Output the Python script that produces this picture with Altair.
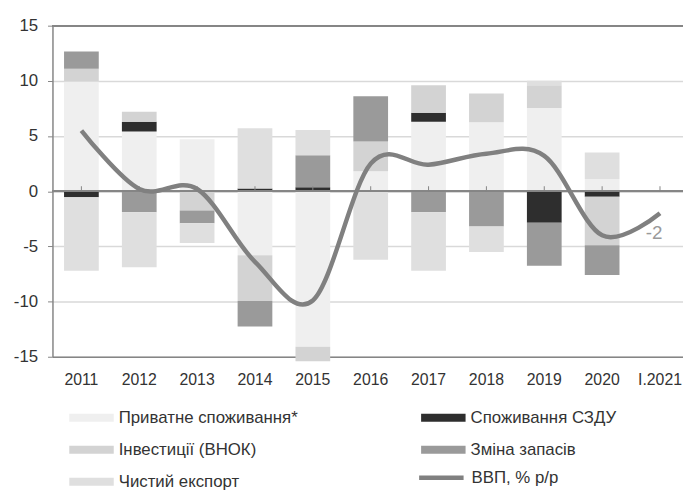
import altair as alt
import pandas as pd

years = ["2011", "2012", "2013", "2014", "2015", "2016", "2017", "2018", "2019", "2020", "I.2021"]
series = ["Приватне споживання*", "Споживання СЗДУ", "Інвестиції (ВНОК)", "Зміна запасів", "Чистий експорт"]
gdp_name = "ВВП, % р/р"

private = [9.95, 5.4, 4.7, -5.8, -14.1, 1.8, 6.3, 6.25, 7.55, 1.1]
gov = [-0.55, 0.9, 0.0, 0.25, 0.35, 0.0, 0.8, 0.0, -2.85, -0.5]
invest = [1.15, 0.9, -1.75, -4.15, -1.3, 2.7, 2.5, 2.6, 2.05, -4.4]
stocks = [1.55, -1.9, -1.15, -2.3, 2.9, 4.1, -1.9, -3.2, -3.9, -2.7]
netexp = [-6.65, -5.0, -1.8, 5.45, 2.3, -6.2, -5.3, -2.3, 0.4, 2.4]
gdp = [5.5, 0.2, 0.2, -6.4, -9.9, 2.5, 2.4, 3.4, 3.2, -4.0, -2.0]

colors = ["#efefef", "#2e2e2e", "#d3d3d3", "#9a9a9a", "#dfdfdf"]
line_color = "#808080"

# legend lays entries out column by column: order them so rows read as in the reference
legend_order = [0, 2, 4, 1, 3]
legend_domain = [series[i] for i in legend_order]
legend_range = [colors[i] for i in legend_order]

rows = []
for k, vals in enumerate([private, gov, invest, stocks, netexp]):
    for i, v in enumerate(vals):
        rows.append({"year": years[i], "series": series[k], "value": v, "ord": k})
bars_df = pd.DataFrame(rows)
line_df = pd.DataFrame({"year": years, "gdp": gdp, "name": gdp_name})

FONT = "Liberation Sans"
AX = "#858585"
TXT = "#333333"

xscale = alt.Scale(domain=years, range=[0, 644], paddingInner=0.4, paddingOuter=0.2)
yscale = alt.Scale(domain=[-15, 15], nice=False)

rect_path = "M-2,-0.36H2V0.36H-2Z"

bar_legend = alt.Legend(
    orient="none", legendX=28, legendY=385, columns=2, title=None,
    symbolType=rect_path, symbolSize=506, symbolStrokeWidth=0, symbolOpacity=1,
    labelFont=FONT, labelFontSize=17, labelColor=TXT, labelOffset=16,
    columnPadding=124, rowPadding=12.5, padding=0, labelLimit=300,
)
line_legend = alt.Legend(
    orient="none", legendX=380, legendY=444, title=None,
    symbolType="M-2,0H2", symbolSize=506, symbolStrokeWidth=4.5, symbolOpacity=1,
    labelFont=FONT, labelFontSize=17, labelColor=TXT, labelOffset=17, padding=0, labelLimit=300,
)

base_x = alt.X("year:N", sort=years, scale=xscale,
               axis=alt.Axis(title=None, labelAngle=0, ticks=False, labelFont=FONT, labelFontSize=16,
                             labelColor=TXT, labelPadding=15, domainColor=AX, domainWidth=1.5, grid=False))

bars = alt.Chart(bars_df).mark_bar(clip=False).encode(
    x=base_x,
    y=alt.Y("value:Q", stack="zero", scale=yscale,
            axis=alt.Axis(title=None, values=[-15, -10, -5, 0, 5, 10, 15], grid=True, gridColor="#d9d9d9",
                          gridWidth=1.5, domainColor=AX, domainWidth=1.5, tickColor=AX, tickSize=5,
                          labelExpr="'' + datum.value",
                          labelFont=FONT, labelFontSize=17, labelColor=TXT, labelPadding=10)),
    fill=alt.Fill("series:N", scale=alt.Scale(domain=legend_domain, range=legend_range), legend=bar_legend),
    order=alt.Order("ord:Q"),
)

zero = alt.Chart(line_df).mark_rule(color=AX, strokeWidth=1.5).encode(y=alt.datum(0))
top = alt.Chart(line_df).mark_rule(color=AX, strokeWidth=1.5).encode(y=alt.datum(15))
cat_ticks = alt.Chart(line_df).mark_rule(color=AX, strokeWidth=1).encode(
    x=alt.X("year:N", sort=years), y=alt.datum(0), y2=alt.datum(0.45))

line = alt.Chart(line_df).mark_line(interpolate="cardinal", strokeWidth=4.5).encode(
    x=alt.X("year:N", sort=years), y=alt.Y("gdp:Q"),
    stroke=alt.Stroke("name:N", scale=alt.Scale(domain=[gdp_name], range=[line_color]), legend=line_legend))

label = alt.Chart(line_df).transform_filter(alt.datum.year == "I.2021").transform_calculate(
    lbl="'' + datum.gdp").mark_text(
    dx=-6, dy=20, fontSize=19, font=FONT, color="#9a9a9a").encode(
    x=alt.X("year:N", sort=years), y=alt.Y("gdp:Q"), text=alt.Text("lbl:N"))

chart = alt.layer(bars, zero, top, cat_ticks, line, label).resolve_legend(fill="independent", stroke="independent").properties(
    width=638, height=335,
    padding={"left": 45, "top": 15, "right": 0, "bottom": 135},
    autosize=alt.AutoSizeParams(type="none"),
).configure_view(stroke=None)

chart.save("out.html", embed_options={"renderer": "svg", "actions": False})
